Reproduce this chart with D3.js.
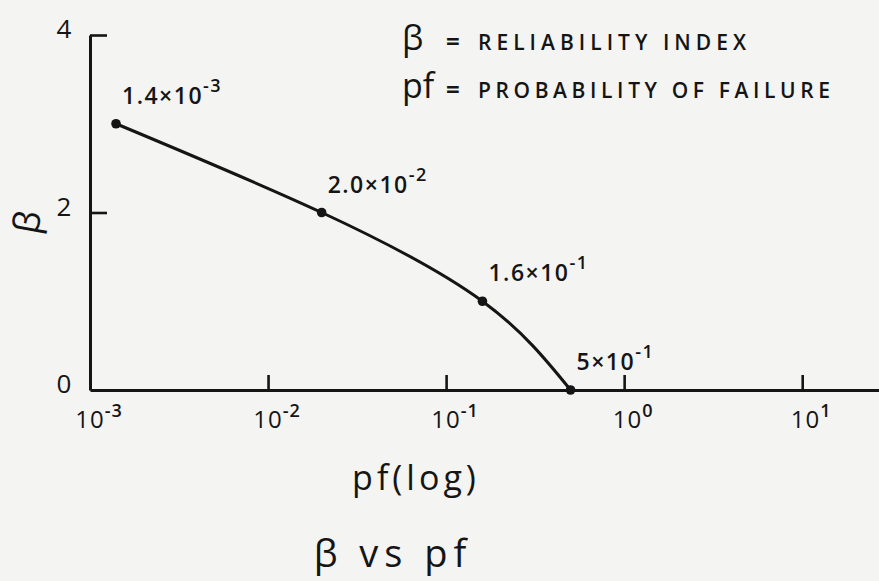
<!DOCTYPE html>
<html>
<head>
<meta charset="utf-8">
<script src="https://cdn.jsdelivr.net/npm/d3@7"></script>
<style>
  html, body { margin: 0; padding: 0; background: #f4f4f2; }
  svg { display: block; }
  text { font-family: "Open Sans", "DejaVu Sans", sans-serif; fill: #151515; }
</style>
</head>
<body>
<svg id="chart" width="879" height="581" font-weight="600"></svg>
<script>
// Reliability index β against probability of failure pf (log scale)
const pfMantissa = ["1.4", "2.0", "1.6", "5"];
const pfExponent = [-3, -2, -1, -1];
const betaValues = [3, 2, 1, 0];

const xTickExponents = [-3, -2, -1, 0, 1];
const yTickValues = [0, 2, 4];

const legendSymbols = ["β", "pf"];
const legendTexts = ["RELIABILITY INDEX", "PROBABILITY OF FAILURE"];
const xTitle = "pf(log)";
const chartTitle = "β vs pf";

const pfValues = pfMantissa.map((m, i) => +m * Math.pow(10, pfExponent[i]));
const points = pfValues.map((pf, i) => ({ pf, beta: betaValues[i], mant: pfMantissa[i], exp: pfExponent[i] }));

const ink = "#151515";
const plot = { left: 90, right: 879, top: 35, bottom: 390 };
const svg = d3.select("#chart");

const x = d3.scaleLog().domain([1e-3, 27]).range([plot.left, plot.right]);
const y = d3.scaleLinear().domain([0, 4]).range([plot.bottom, plot.top]);

// x axis: ticks point up into the plot
const gx = svg.append("g")
  .attr("transform", `translate(0,${plot.bottom})`)
  .call(d3.axisBottom(x)
    .tickValues(xTickExponents.slice(1).map(e => Math.pow(10, e)))
    .tickSize(-15).tickSizeOuter(0).tickFormat(""));
gx.select(".domain").attr("stroke", ink).attr("stroke-width", 3.2);
gx.selectAll(".tick line").attr("stroke", ink).attr("stroke-width", 2.6);

// y axis: ticks point right into the plot
const gy = svg.append("g")
  .attr("transform", `translate(${plot.left},0)`)
  .call(d3.axisLeft(y)
    .tickValues(yTickValues.filter(v => v > 0))
    .tickSize(-17).tickSizeOuter(0).tickFormat(""));
gy.select(".domain").attr("stroke", ink).attr("stroke-width", 3);
gy.selectAll(".tick line").attr("stroke", ink).attr("stroke-width", 2.6);

// x tick labels written as powers of ten
const xl = svg.append("g").selectAll("text")
  .data(xTickExponents).join("text")
  .attr("x", e => x(Math.pow(10, e)) + 9)
  .attr("y", plot.bottom + 38)
  .attr("text-anchor", "middle")
  .attr("font-size", 24)
  .attr("font-weight", 400)
  .attr("letter-spacing", 1);
xl.append("tspan").text("10");
xl.append("tspan").attr("dy", -11).attr("font-size", 18).attr("font-weight", 600)
  .text(e => (e < 0 ? "-" : "") + Math.abs(e));

// y tick labels
svg.append("g").selectAll("text")
  .data(yTickValues).join("text")
  .attr("x", 64)
  .attr("y", v => y(v) - 6)
  .attr("dy", "0.35em")
  .attr("text-anchor", "middle")
  .attr("font-size", 26)
  .attr("font-weight", 400)
  .text(v => v);

// y axis title
svg.append("text")
  .attr("transform", "translate(27,222) rotate(-80)")
  .attr("text-anchor", "middle")
  .attr("dy", "0.35em")
  .attr("font-size", 36)
  .attr("font-weight", 400)
  .text("β");

// smooth curve through the points
const line = d3.line()
  .x(d => x(d.pf))
  .y(d => y(d.beta))
  .curve(d3.curveNatural);
svg.append("path")
  .datum(points)
  .attr("d", line)
  .attr("fill", "none")
  .attr("stroke", ink)
  .attr("stroke-width", 3);

svg.append("g").selectAll("circle")
  .data(points).join("circle")
  .attr("cx", d => x(d.pf))
  .attr("cy", d => y(d.beta))
  .attr("r", 4.8)
  .attr("fill", ink);

// point value labels
const pl = svg.append("g").selectAll("text")
  .data(points).join("text")
  .attr("x", d => x(d.pf) + 6)
  .attr("y", d => y(d.beta) - 20)
  .attr("font-size", 23)
  .attr("letter-spacing", 1.5);
pl.append("tspan").text(d => d.mant + "×10");
pl.append("tspan").attr("dy", -12).attr("font-size", 18)
  .text(d => (d.exp < 0 ? "-" : "") + Math.abs(d.exp));

// legend of symbols
const lg = svg.append("g").selectAll("g")
  .data(legendSymbols.map((s, i) => ({ s, t: legendTexts[i], i }))).join("g")
  .attr("transform", d => `translate(0,${50 + d.i * 48})`);
lg.append("text").attr("x", 402).attr("font-size", 34).attr("font-weight", 400).text(d => d.s);
lg.append("text").attr("x", 446).attr("font-size", 24).attr("font-weight", 700).text("=");
lg.append("text").attr("x", 478).attr("font-size", 21)
  .attr("textLength", d => d.i === 0 ? 268 : 352)
  .attr("lengthAdjust", "spacing")
  .text(d => d.t);

// axis title and chart caption
svg.append("text")
  .attr("x", 416).attr("y", 490)
  .attr("text-anchor", "middle")
  .attr("font-size", 34)
  .attr("font-weight", 400)
  .attr("letter-spacing", 4)
  .text(xTitle);

svg.append("text")
  .attr("x", 393).attr("y", 567)
  .attr("text-anchor", "middle")
  .attr("font-size", 38)
  .attr("font-weight", 400)
  .attr("letter-spacing", 6)
  .text(chartTitle);
</script>
</body>
</html>
